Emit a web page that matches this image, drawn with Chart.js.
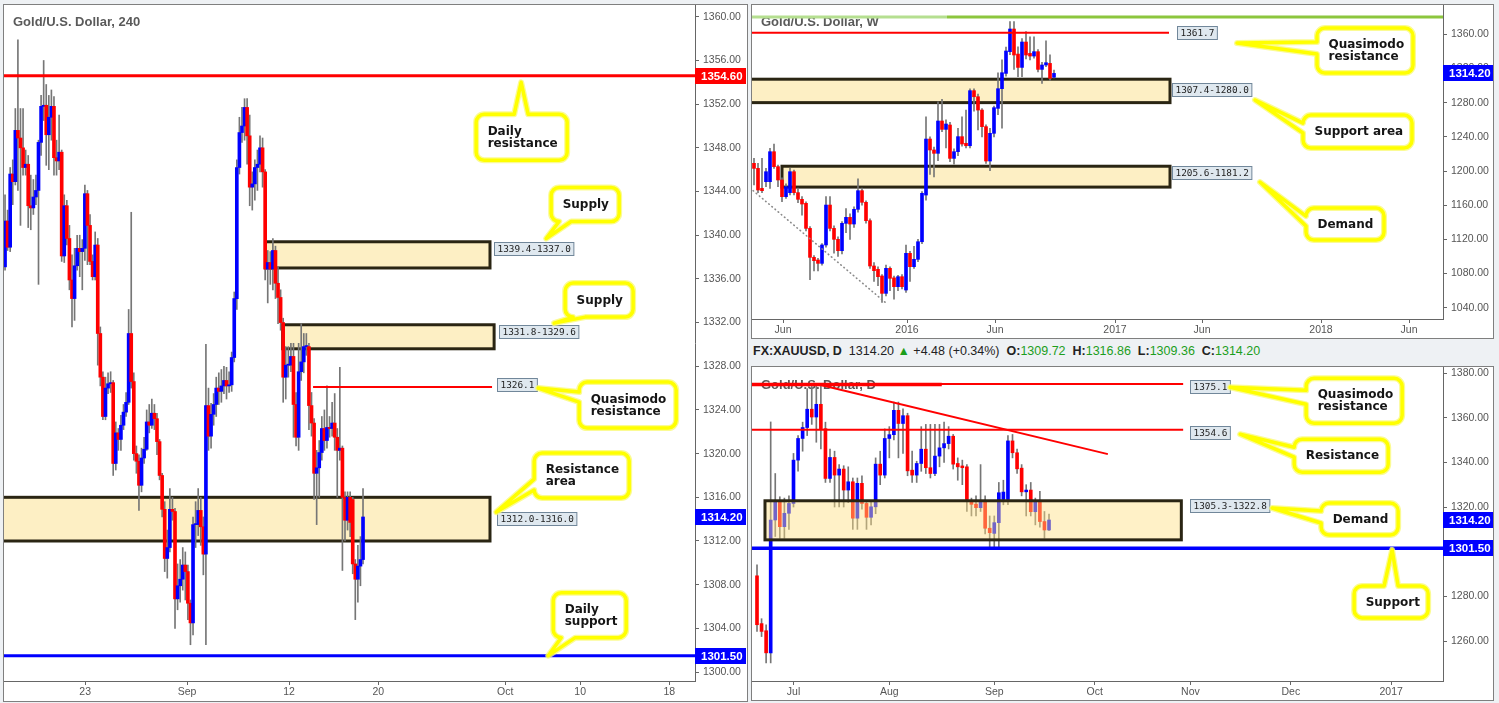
<!DOCTYPE html>
<html>
<head>
<meta charset="utf-8">
<script src="https://cdn.jsdelivr.net/npm/chart.js@4.4.1/dist/chart.umd.min.js"></script>
<style>
body { margin: 0; width: 1499px; height: 703px; overflow: hidden; position: relative; background: #eef1f4; }
.panel { position: absolute; background: #fff; border: 1px solid #7f7f7f; box-sizing: border-box; }
canvas { position: absolute; }
#hdr { position: absolute; left: 753px; top: 344px; font: 12.5px "Liberation Sans", Arial, sans-serif; color: #222; white-space: nowrap; }
#hdr .g { color: #1c9e1c; }
#hdr b { color: #222; }
</style>
</head>
<body>
<div class="panel" style="left:3px;top:4px;width:745px;height:698px"></div>
<div class="panel" style="left:751px;top:4px;width:743px;height:335px"></div>
<div class="panel" style="left:751px;top:366px;width:743px;height:335px"></div>
<div id="hdr"></div>
<canvas id="c4h" width="742" height="695" style="left:4px;top:5px"></canvas>
<canvas id="cw" width="741" height="333" style="left:752px;top:5px"></canvas>
<canvas id="cd" width="741" height="333" style="left:752px;top:367px"></canvas>
<script>
// ---- 4 hour candles (gold, mid Aug - 19 Sep 2016)
var H4_O = [1337.1,1341.3,1338.9,1345.6,1344.9,1349.6,1348.9,1348.0,1346.2,1346.5,
  1342.7,1342.5,1343.5,1344.1,1348.5,1351.8,1351.9,1349.2,1350.8,1351.8,
  1347.1,1346.8,1347.6,1338.1,1342.7,1339.7,1335.9,1334.2,1337.2,1338.8,
  1338.5,1338.8,1343.8,1340.9,1337.6,1336.2,1339.1,1331.0,1327.0,1323.4,
  1326.0,1326.4,1326.5,1319.1,1321.9,1321.3,1322.6,1323.8,1324.7,1331.0,
  1326.6,1320.0,1319.3,1317.1,1319.6,1320.4,1322.9,1322.6,1323.7,1323.2,
  1321.1,1318.0,1314.9,1310.4,1311.4,1314.9,1314.7,1306.7,1307.9,1308.5,
  1309.8,1309.2,1306.3,1304.5,1313.5,1313.5,1314.8,1313.3,1310.8,1324.4,
  1321.6,1323.6,1324.5,1326.0,1325.7,1326.2,1326.7,1326.2,1326.3,1328.8,
  1334.2,1346.2,1349.4,1350.0,1351.7,1349.1,1344.4,1344.7,1346.2,1346.5,
  1348.0,1345.8,1336.9,1337.5,1336.9,1338.6,1335.6,1334.3,1332.0,1327.0,
  1328.1,1328.1,1328.9,1324.5,1321.5,1327.5,1328.4,1329.8,1329.8,1324.4,
  1322.8,1318.2,1318.7,1320.1,1322.3,1321.2,1322.4,1322.3,1322.8,1321.5,
  1320.3,1320.5,1316.0,1313.9,1316.0,1315.8,1309.9,1308.5,1309.7,1310.3];
var H4_H = [1343.7,1342.3,1346.2,1346.9,1351.6,1357.9,1351.6,1351.6,1347.8,1347.3,
  1345.5,1345.1,1345.5,1348.7,1352.8,1356.0,1353.8,1352.8,1353.3,1352.7,
  1348.7,1351.0,1347.8,1343.7,1343.2,1340.9,1338.2,1338.8,1340.0,1340.0,
  1339.6,1344.6,1344.1,1341.9,1338.2,1340.3,1339.7,1331.6,1327.5,1327.0,
  1327.4,1327.5,1326.7,1322.9,1322.3,1323.5,1324.5,1325.6,1333.2,1342.1,
  1327.4,1320.7,1319.9,1320.5,1321.5,1324.0,1324.5,1325.0,1324.5,1323.7,
  1321.3,1318.2,1315.6,1313.0,1316.8,1316.0,1315.0,1309.9,1310.3,1311.4,
  1311.0,1309.8,1306.6,1314.2,1315.6,1316.8,1316.0,1314.2,1330.0,1326.0,
  1324.6,1325.5,1327.0,1327.4,1327.7,1328.0,1327.9,1327.5,1329.3,1334.8,
  1346.9,1350.8,1351.7,1352.5,1352.5,1351.0,1345.8,1346.9,1347.8,1349.1,
  1348.9,1346.0,1338.6,1338.5,1339.7,1339.0,1337.1,1335.0,1332.4,1329.8,
  1329.8,1330.1,1330.1,1325.6,1330.1,1331.9,1331.0,1331.0,1330.1,1325.6,
  1323.2,1320.3,1321.2,1323.4,1324.0,1326.2,1323.4,1324.7,1325.5,1322.3,
  1327.9,1320.7,1316.5,1316.5,1316.5,1316.0,1310.3,1311.6,1312.4,1316.8];
var H4_L = [1336.8,1338.6,1338.5,1342.8,1344.6,1344.1,1340.9,1345.5,1345.5,1340.7,
  1340.5,1341.9,1342.8,1335.5,1347.3,1350.5,1346.4,1346.0,1348.7,1345.5,
  1345.5,1346.0,1337.6,1337.5,1339.1,1335.0,1331.6,1332.2,1336.8,1336.2,
  1335.0,1337.7,1337.3,1337.3,1335.9,1335.9,1328.1,1326.2,1323.1,1323.1,
  1325.5,1325.6,1318.0,1318.5,1320.3,1320.3,1322.2,1323.4,1324.5,1326.0,
  1319.4,1318.2,1314.8,1316.5,1319.1,1320.3,1321.9,1322.3,1322.2,1319.9,
  1317.6,1314.2,1309.2,1308.6,1311.0,1313.9,1304.0,1305.7,1306.4,1307.5,
  1306.6,1304.8,1302.5,1303.4,1311.4,1312.5,1311.6,1308.9,1302.5,1320.3,
  1320.5,1322.6,1323.4,1324.5,1324.7,1325.5,1325.0,1325.6,1325.7,1328.4,
  1333.2,1345.6,1348.5,1348.7,1346.5,1342.7,1342.3,1343.2,1344.1,1345.8,
  1344.4,1335.9,1333.8,1335.5,1335.0,1334.2,1331.9,1331.3,1324.7,1325.0,
  1327.0,1327.5,1321.5,1320.7,1320.3,1326.7,1327.4,1329.0,1322.2,1321.6,
  1315.8,1313.5,1316.0,1319.4,1320.3,1320.5,1321.5,1321.6,1320.3,1316.0,
  1319.4,1309.3,1312.0,1313.0,1312.4,1309.0,1304.8,1306.4,1307.9,1309.9];
var H4_C = [1341.3,1338.9,1345.6,1344.9,1349.6,1348.9,1348.0,1346.2,1346.5,1342.7,
  1342.5,1343.5,1344.1,1348.5,1351.8,1351.9,1349.2,1350.8,1351.8,1347.1,
  1346.8,1347.6,1338.1,1342.7,1339.7,1335.9,1334.2,1337.2,1338.8,1338.5,
  1338.8,1343.8,1340.9,1337.6,1336.2,1339.1,1331.0,1327.0,1323.4,1326.0,
  1326.4,1326.5,1319.1,1321.9,1321.3,1322.6,1323.8,1324.7,1331.0,1326.6,
  1320.0,1319.3,1317.1,1319.6,1320.4,1322.9,1322.6,1323.7,1323.2,1321.1,
  1318.0,1314.9,1310.4,1311.4,1314.9,1314.7,1306.7,1307.9,1308.5,1309.8,
  1309.2,1306.3,1304.5,1313.5,1313.5,1314.8,1313.3,1310.8,1324.4,1321.6,
  1323.6,1324.5,1326.0,1325.7,1326.2,1326.7,1326.2,1326.3,1328.8,1334.2,
  1346.2,1349.4,1350.0,1351.7,1349.1,1344.4,1344.7,1346.2,1346.5,1348.0,
  1345.8,1336.9,1337.5,1336.9,1338.6,1335.6,1334.3,1332.0,1327.0,1328.1,
  1328.1,1328.9,1324.5,1321.5,1327.5,1328.4,1329.8,1329.8,1324.4,1322.8,
  1318.2,1318.7,1320.1,1322.3,1321.2,1322.4,1322.3,1322.8,1321.5,1320.3,
  1320.5,1316.0,1313.9,1316.0,1313.7,1309.9,1308.5,1309.7,1310.3,1314.2];
var H4_TICK_POS = [31.1, 70.7, 110.3, 144.9, 194.2, 223.3, 257.9];
var H4_TICK_LBL = ['23', 'Sep', '12', '20', 'Oct', '10', '18'];

// ---- weekly candles (May 2015 - Sep 2016)
var W_O = [1209.0,1203.1,1179.7,1187.5,1187.5,1222.6,1205.1,1189.5,1170.0,1174.7,
  1199.2,1174.7,1166.9,1162.2,1132.9,1099.0,1095.9,1092.0,1113.5,1160.2,
  1132.9,1120.1,1106.8,1138.8,1145.8,1138.0,1155.2,1177.0,1163.4,1141.9,
  1088.9,1085.0,1077.2,1056.9,1086.2,1075.0,1064.7,1076.4,1060.8,1103.7,
  1088.1,1096.7,1117.3,1171.9,1237.4,1224.6,1220.7,1258.5,1248.7,1253.8,
  1214.8,1222.6,1240.2,1232.4,1229.6,1294.0,1286.9,1271.3,1251.9,1211.7,
  1244.1,1273.3,1296.3,1314.2,1339.6,1366.1,1336.8,1321.2,1350.9,1337.6,
  1334.5,1339.6,1318.9,1324.0,1325.9,1309.7];
var W_H = [1214.8,1209.0,1214.8,1203.1,1226.5,1231.6,1207.0,1192.0,1185.0,1203.1,
  1201.0,1180.0,1170.0,1164.0,1135.0,1101.0,1098.0,1115.0,1170.0,1170.0,
  1136.0,1123.0,1141.0,1156.0,1150.0,1158.0,1191.0,1180.0,1165.0,1144.0,
  1093.0,1088.0,1079.0,1090.0,1088.0,1077.0,1078.0,1079.0,1113.5,1106.0,
  1112.0,1120.0,1176.0,1263.5,1240.0,1228.0,1281.0,1283.8,1260.0,1257.0,
  1226.0,1250.0,1263.5,1271.3,1296.0,1296.0,1290.0,1273.0,1254.0,1250.0,
  1276.0,1315.0,1330.0,1345.0,1374.7,1374.7,1345.4,1355.0,1363.0,1357.1,
  1357.1,1342.0,1327.0,1352.4,1336.0,1318.0];
var W_L = [1183.6,1174.7,1174.7,1181.7,1179.7,1203.1,1181.7,1164.1,1168.0,1172.0,
  1172.0,1163.0,1148.5,1130.0,1073.0,1083.0,1083.0,1090.0,1111.0,1130.0,
  1104.0,1100.0,1103.0,1128.0,1120.0,1134.0,1152.0,1160.0,1139.0,1086.0,
  1071.0,1066.0,1046.2,1054.0,1060.0,1050.0,1060.0,1062.0,1058.0,1071.0,
  1086.0,1094.0,1115.0,1166.0,1196.0,1193.0,1212.0,1246.0,1227.0,1211.0,
  1208.0,1218.0,1229.0,1227.0,1227.0,1270.0,1248.0,1240.0,1209.0,1200.4,
  1240.0,1266.0,1250.0,1311.0,1336.0,1318.9,1310.3,1310.3,1331.0,1330.0,
  1332.0,1316.0,1302.5,1322.0,1306.0,1309.0];
var W_C = [1203.1,1177.8,1177.0,1199.2,1222.6,1205.1,1189.5,1170.0,1181.7,1199.2,
  1174.7,1166.9,1161.4,1132.9,1099.0,1095.1,1092.0,1113.5,1160.2,1132.9,
  1120.1,1106.8,1138.8,1145.8,1138.0,1155.2,1177.0,1163.4,1141.9,1088.9,
  1083.4,1076.4,1056.9,1086.2,1074.5,1064.7,1076.4,1064.7,1103.7,1088.1,
  1096.7,1117.3,1173.9,1237.4,1224.6,1220.7,1258.5,1248.7,1255.0,1214.8,
  1222.6,1240.2,1231.6,1229.6,1294.0,1286.9,1271.3,1251.9,1211.7,1244.1,
  1274.1,1296.3,1315.0,1340.4,1366.1,1335.7,1321.2,1350.9,1335.7,1334.5,
  1339.6,1318.9,1324.0,1326.7,1308.4,1314.2];
var W_TICK_POS = [7.25, 38.25, 60.25, 90.25, 112, 141.75, 163.75];
var W_TICK_LBL = ['Jun', '2016', 'Jun', '2017', 'Jun', '2018', 'Jun'];

// ---- daily candles (21 Jun - 19 Sep 2016)
var D_O = [1289.2,1267.8,1264.6,1254.7,1314.2,1322.4,1311.2,1317.2,1321.6,1341.0,
  1350.7,1355.6,1363.8,1360.3,1366.0,1355.1,1332.8,1342.2,1334.3,1337.0,
  1327.6,1331.3,1315.0,1330.6,1321.6,1315.4,1320.1,1339.2,1334.3,1350.7,
  1352.4,1363.3,1357.4,1360.9,1336.5,1334.3,1339.5,1345.9,1337.6,1335.0,
  1342.8,1346.5,1348.4,1351.7,1339.5,1338.4,1338.0,1322.4,1321.3,1319.7,
  1322.4,1310.5,1308.2,1313.0,1323.4,1323.4,1349.6,1344.3,1337.4,1326.8,
  1327.6,1317.9,1322.4,1313.5,1309.72];
var D_H = [1294.1,1270.0,1267.3,1358.1,1335.0,1324.6,1324.0,1325.0,1344.0,1352.0,
  1358.0,1373.0,1374.0,1374.0,1375.2,1358.0,1346.0,1345.0,1339.0,1338.5,
  1338.0,1333.0,1333.0,1334.0,1323.0,1323.0,1342.0,1345.0,1355.0,1356.0,
  1367.0,1367.0,1364.0,1362.0,1345.0,1340.5,1356.0,1357.0,1357.0,1357.0,
  1357.0,1358.0,1356.0,1352.5,1342.0,1341.0,1339.0,1324.0,1325.0,1339.0,
  1325.0,1316.0,1316.0,1331.0,1332.0,1352.0,1352.5,1346.0,1339.0,1330.0,
  1331.0,1324.0,1327.0,1318.0,1316.86];
var D_L = [1264.3,1262.0,1250.2,1250.2,1306.8,1306.0,1306.0,1310.0,1320.0,1336.0,
  1345.0,1352.0,1357.0,1349.0,1346.0,1331.0,1331.0,1320.0,1320.0,1320.0,
  1322.0,1310.0,1310.0,1319.0,1310.0,1312.0,1317.0,1330.0,1333.0,1342.0,
  1350.0,1342.0,1344.0,1334.0,1331.0,1331.0,1336.0,1335.0,1333.0,1334.0,
  1338.0,1340.0,1346.0,1337.0,1332.0,1330.0,1318.0,1316.0,1316.0,1318.0,
  1308.0,1302.0,1302.0,1302.0,1321.0,1321.0,1342.0,1335.0,1325.0,1316.0,
  1316.0,1312.0,1311.0,1306.0,1309.36];
var D_C = [1267.3,1264.3,1254.7,1314.2,1322.4,1311.2,1317.2,1321.6,1341.0,1350.7,
  1355.6,1363.8,1360.3,1366.0,1355.1,1332.8,1342.2,1334.3,1337.0,1327.6,
  1331.3,1315.0,1330.6,1321.6,1315.4,1320.1,1339.2,1334.3,1350.7,1352.4,
  1363.3,1357.4,1360.9,1336.2,1334.3,1339.5,1345.9,1337.6,1335.0,1342.8,
  1346.5,1348.4,1351.7,1339.2,1338.0,1337.6,1323.4,1321.2,1319.7,1322.4,
  1310.5,1308.5,1313.0,1326.4,1326.7,1349.6,1344.3,1337.1,1326.8,1327.6,
  1317.9,1322.4,1313.5,1309.72,1314.20];
var D_TICK_POS = [8, 29, 52, 74, 95, 117, 139];
var D_TICK_LBL = ['Jul', 'Aug', 'Sep', 'Oct', 'Nov', 'Dec', '2017'];

var UP = '#0000ff', DOWN = '#ff0000', WICK = '#767676', AXIS = '#666', TXT = '#555';
var RED = '#ff0000', BLUE = '#0000ff';
var ZONE = '#fdefc4', ZONE_T = 'rgba(255,225,130,0.45)';

function candleSets(O, H, L, C) {
  return [
    { data: O.map(function (o, i) { return { x: i, y: [o, C[i]] }; }),
      backgroundColor: O.map(function (o, i) { return C[i] >= o ? UP : DOWN; }),
      barThickness: 3, minBarLength: 1, grouped: false, order: 1 },
    { data: L.map(function (l, i) { return { x: i, y: [l, H[i]] }; }),
      backgroundColor: WICK, barThickness: 1, grouped: false, order: 2 }
  ];
}

function axes(xr, tpos, tlbl, yr, step, yw) {
  var font = { family: 'Liberation Sans', size: 10.5 };
  var grid = { display: true, offset: false, drawOnChartArea: false, drawTicks: true, tickLength: 4, color: AXIS };
  return {
    x: { type: 'linear', min: xr[0], max: xr[1], offset: false, grid: grid,
         border: { display: true, color: AXIS },
         afterBuildTicks: function (s) { s.ticks = tpos.map(function (v) { return { value: v }; }); },
         afterFit: function (s) { s.height = 19; s.paddingLeft = 0; s.paddingRight = 0; },
         ticks: { autoSkip: false, maxRotation: 0, padding: 1, color: TXT, font: font,
                  callback: function (v, i) { return tlbl[i]; } } },
    y: { type: 'linear', position: 'right', min: yr[0], max: yr[1], grid: grid,
         border: { display: true, color: AXIS },
         afterFit: function (s) { s.width = yw; s.paddingTop = 0; s.paddingBottom = 0; },
         ticks: { stepSize: step, includeBounds: false, autoSkip: false, padding: 4, color: TXT, font: font,
                  callback: function (v) { return v.toFixed(2); } } }
  };
}

function drawZone(ctx, x, y, a, z) {
  var x0 = Math.max(x.getPixelForValue(z.x0), a.left - 3);
  var x1 = x.getPixelForValue(z.x1);
  var y0 = y.getPixelForValue(z.hi), y1 = y.getPixelForValue(z.lo);
  ctx.fillStyle = z.fill;
  ctx.fillRect(x0, y0, x1 - x0, y1 - y0);
  ctx.lineWidth = 3;
  ctx.strokeStyle = '#2a2513';
  ctx.strokeRect(x0, y0, x1 - x0, y1 - y0);
}

function drawCallout(ctx, c, tx, ty) {
  var x = tx + c.dx, y = ty + c.dy, w = c.w, h = c.h, r = 8;
  ctx.beginPath();
  ctx.moveTo(x + r, y);
  if (c.side === 'top') { ctx.lineTo(x + c.b0, y); ctx.lineTo(tx, ty); ctx.lineTo(x + c.b1, y); }
  ctx.lineTo(x + w - r, y);
  ctx.arcTo(x + w, y, x + w, y + r, r);
  ctx.lineTo(x + w, y + h - r);
  ctx.arcTo(x + w, y + h, x + w - r, y + h, r);
  if (c.side === 'bottom') { ctx.lineTo(x + c.b1, y + h); ctx.lineTo(tx, ty); ctx.lineTo(x + c.b0, y + h); }
  ctx.lineTo(x + r, y + h);
  ctx.arcTo(x, y + h, x, y + h - r, r);
  if (c.side === 'left') { ctx.lineTo(x, y + c.b1); ctx.lineTo(tx, ty); ctx.lineTo(x, y + c.b0); }
  ctx.lineTo(x, y + r);
  ctx.arcTo(x, y, x + r, y, r);
  ctx.closePath();
  ctx.fillStyle = '#fff';
  ctx.fill();
  ctx.lineJoin = 'round';
  ctx.strokeStyle = 'rgba(250,250,120,0.8)';
  ctx.lineWidth = 6;
  ctx.stroke();
  ctx.strokeStyle = '#ffff00';
  ctx.lineWidth = 3.5;
  ctx.stroke();
  ctx.fillStyle = '#151515';
  ctx.font = 'bold 12px "DejaVu Sans"';
  ctx.textBaseline = 'middle';
  var n = c.text.length, lh = 12;
  c.text.forEach(function (t, i) {
    ctx.fillText(t, x + 11.5, y + h / 2 + (i - (n - 1) / 2) * lh + 0.5);
  });
}

function overlay(cfg) {
  return {
    id: 'overlay',
    beforeDatasetsDraw: function (chart) {
      var ctx = chart.ctx, a = chart.chartArea, x = chart.scales.x, y = chart.scales.y;
      ctx.save();
      ctx.beginPath(); ctx.rect(a.left, a.top, a.right - a.left, a.bottom - a.top); ctx.clip();
      ctx.font = 'bold 13px "Liberation Sans"';
      ctx.fillStyle = '#5a5a5a';
      ctx.textBaseline = 'alphabetic';
      ctx.fillText(cfg.title, a.left + 9, a.top + cfg.titleY);
      (cfg.under || []).forEach(function (z) { drawZone(ctx, x, y, a, z); });
      ctx.restore();
    },
    afterDatasetsDraw: function (chart) {
      var ctx = chart.ctx, a = chart.chartArea, x = chart.scales.x, y = chart.scales.y;
      ctx.save();
      ctx.beginPath(); ctx.rect(a.left, a.top, a.right - a.left, a.bottom - a.top); ctx.clip();
      (cfg.over || []).forEach(function (z) { drawZone(ctx, x, y, a, z); });
      (cfg.lines || []).forEach(function (l) {
        ctx.beginPath();
        ctx.setLineDash(l.dash || []);
        ctx.lineCap = l.dash ? 'round' : 'butt';
        ctx.strokeStyle = l.color;
        ctx.lineWidth = l.w;
        var x0 = l.x0 === undefined ? a.left : x.getPixelForValue(l.x0);
        var x1 = l.x1 === undefined ? a.right : x.getPixelForValue(l.x1);
        var v1 = l.v1 === undefined ? l.v : l.v1;
        ctx.moveTo(x0, y.getPixelForValue(l.v));
        ctx.lineTo(x1, y.getPixelForValue(v1));
        ctx.stroke();
      });
      ctx.setLineDash([]);
      (cfg.labels || []).forEach(function (t) {
        ctx.font = '9.4px "DejaVu Sans Mono"';
        var tw = ctx.measureText(t.text).width;
        var px = Math.round(x.getPixelForValue(t.x)) + 0.5;
        var py = Math.round(y.getPixelForValue(t.v) - 6.5) + 0.5;
        ctx.fillStyle = '#dfe8ef';
        ctx.fillRect(px, py, tw + 6, 13);
        ctx.strokeStyle = '#71879a';
        ctx.lineWidth = 1;
        ctx.strokeRect(px, py, tw + 6, 13);
        ctx.fillStyle = '#1e1e1e';
        ctx.textBaseline = 'middle';
        ctx.fillText(t.text, px + 3, py + 7);
      });
      (cfg.callouts || []).forEach(function (c) {
        drawCallout(ctx, c, x.getPixelForValue(c.tx), y.getPixelForValue(c.ty));
      });
      ctx.restore();
      (cfg.tags || []).forEach(function (t) {
        var py = Math.round(y.getPixelForValue(t.v));
        ctx.fillStyle = t.bg;
        ctx.fillRect(a.right, py - 8, chart.width - a.right, 16);
        ctx.fillStyle = '#fff';
        ctx.font = 'bold 11.5px "Liberation Sans"';
        ctx.textBaseline = 'middle';
        ctx.fillText(t.v.toFixed(2), a.right + 6, py + 0.5);
      });
    }
  };
}

function makeChart(id, sets, sc, cfg) {
  return new Chart(document.getElementById(id), {
    type: 'bar',
    data: { datasets: sets },
    options: {
      responsive: false, animation: false, devicePixelRatio: 1, events: [],
      layout: { padding: 0 },
      plugins: { legend: { display: false }, tooltip: { enabled: false } },
      scales: sc
    },
    plugins: [overlay(cfg)]
  });
}

// 4 hour
makeChart('c4h', candleSets(H4_O, H4_H, H4_L, H4_C),
  axes([-0.4, 267.9], H4_TICK_POS, H4_TICK_LBL, [1299.18, 1361.08], 4, 51), {
    title: 'Gold/U.S. Dollar, 240', titleY: 21,
    under: [
      { x0: 101.1, x1: 188.3, hi: 1339.4, lo: 1337.0, fill: ZONE },
      { x0: 107.8, x1: 189.9, hi: 1331.8, lo: 1329.6, fill: ZONE },
      { x0: -2, x1: 188.3, hi: 1316.0, lo: 1312.0, fill: ZONE }
    ],
    lines: [
      { v: 1354.6, color: RED, w: 3 },
      { v: 1301.5, color: BLUE, w: 3 },
      { x0: 119.6, x1: 189.1, v: 1326.1, color: RED, w: 2 }
    ],
    labels: [
      { x: 189.9, v: 1338.8, text: '1339.4-1337.0' },
      { x: 191.8, v: 1331.2, text: '1331.8-1329.6' },
      { x: 191.1, v: 1326.3, text: '1326.1' },
      { x: 191.1, v: 1314.1, text: '1312.0-1316.0' }
    ],
    callouts: [
      { tx: 200.4, ty: 1354.0, dx: -45, dy: 32, w: 91, h: 46, side: 'top', b0: 38, b1: 52, text: ['Daily', 'resistance'] },
      { tx: 210.1, ty: 1339.7, dx: 5, dy: -51, w: 68, h: 34, side: 'bottom', b0: 8, b1: 20, text: ['Supply'] },
      { tx: 213.2, ty: 1331.95, dx: 11, dy: -40, w: 68, h: 34, side: 'bottom', b0: 8, b1: 20, text: ['Supply'] },
      { tx: 207.0, ty: 1326.0, dx: 41, dy: -6, w: 97, h: 46, side: 'left', b0: 10, b1: 20, text: ['Quasimodo', 'resistance'] },
      { tx: 190.7, ty: 1314.65, dx: 38, dy: -59, w: 95, h: 45, side: 'left', b0: 26, b1: 37, text: ['Resistance', 'area'] },
      { tx: 210.9, ty: 1301.5, dx: 5, dy: -63, w: 73, h: 45, side: 'bottom', b0: 8, b1: 22, text: ['Daily', 'support'] }
    ],
    tags: [ { v: 1354.6, bg: RED }, { v: 1314.2, bg: BLUE }, { v: 1301.5, bg: BLUE } ]
  });

// weekly
makeChart('cw', candleSets(W_O, W_H, W_L, W_C),
  axes([-0.5, 172.25], W_TICK_POS, W_TICK_LBL, [1026.9, 1394.2], 40, 50), {
    title: 'Gold/U.S. Dollar, W', titleY: 21,
    under: [
      { x0: -2, x1: 104, hi: 1307.4, lo: 1280.0, fill: ZONE },
      { x0: 7, x1: 104, hi: 1205.6, lo: 1181.2, fill: ZONE }
    ],
    lines: [
      { x0: -1, x1: 48.25, v: 1380.2, color: '#b5df90', w: 3 },
      { x0: 48.25, x1: 175, v: 1380.2, color: '#8cc63e', w: 3 },
      { x1: 103.75, v: 1361.7, color: RED, w: 2 },
      { x0: -1, x1: 33, v: 1180.1, v1: 1045.6, color: '#8a8a8a', w: 1.6, dash: [0.5, 3.6] }
    ],
    labels: [
      { x: 105.75, v: 1362.6, text: '1361.7' },
      { x: 104.5, v: 1295.9, text: '1307.4-1280.0' },
      { x: 104.5, v: 1198.8, text: '1205.6-1181.2' }
    ],
    callouts: [
      { tx: 120.75, ty: 1349.7, dx: 80, dy: -15, w: 96, h: 45, side: 'left', b0: 14, b1: 26, text: ['Quasimodo', 'resistance'] },
      { tx: 125.25, ty: 1283.0, dx: 48, dy: 15, w: 109, h: 33, side: 'left', b0: 8, b1: 18, text: ['Support area'] },
      { tx: 126.5, ty: 1187.1, dx: 46, dy: 26, w: 78, h: 32, side: 'left', b0: 8, b1: 18, text: ['Demand'] }
    ],
    tags: [ { v: 1314.2, bg: BLUE } ]
  });

// daily
makeChart('cd', candleSets(D_O, D_H, D_L, D_C),
  axes([-1.096, 150.35], D_TICK_POS, D_TICK_LBL, [1242.1, 1382.7], 20, 50), {
    title: 'Gold/U.S. Dollar, D', titleY: 22,
    over: [ { x0: 1.75, x1: 93, hi: 1322.8, lo: 1305.3, fill: ZONE_T } ],
    lines: [
      { x1: 40.5, v: 1374.9, color: RED, w: 3.5 },
      { x1: 93.4, v: 1375.1, color: RED, w: 2 },
      { x1: 93.4, v: 1354.6, color: RED, w: 2 },
      { x0: 14.2, x1: 76.9, v: 1374.5, v1: 1343.7, color: RED, w: 2 },
      { v: 1301.5, color: BLUE, w: 3.5 }
    ],
    labels: [
      { x: 94.9, v: 1373.8, text: '1375.1' },
      { x: 94.9, v: 1353.3, text: '1354.6' },
      { x: 94.9, v: 1320.9, text: '1305.3-1322.8' }
    ],
    callouts: [
      { tx: 103.7, ty: 1373.6, dx: 76, dy: -9, w: 96, h: 45, side: 'left', b0: 12, b1: 26, text: ['Quasimodo', 'resistance'] },
      { tx: 105.9, ty: 1352.6, dx: 54, dy: 5, w: 94, h: 33, side: 'left', b0: 8, b1: 18, text: ['Resistance'] },
      { tx: 112.9, ty: 1319.55, dx: 49, dy: -5, w: 77, h: 32, side: 'left', b0: 8, b1: 20, text: ['Demand'] },
      { tx: 139.2, ty: 1300.8, dx: -38, dy: 36, w: 74, h: 32, side: 'top', b0: 30, b1: 44, text: ['Support'] }
    ],
    tags: [ { v: 1314.2, bg: BLUE }, { v: 1301.5, bg: BLUE } ]
  });

// daily header line built from the last daily bar
(function () {
  var n = D_C.length, last = D_C[n - 1], chg = last - D_C[n - 2];
  var pct = chg / D_C[n - 2] * 100;
  var g = function (v) { return '<span class="g">' + v.toFixed(2) + '</span>'; };
  document.getElementById('hdr').innerHTML =
    '<b>FX:XAUUSD, D</b>&nbsp; ' + last.toFixed(2) + ' <span class="g">&#9650;</span> +' + chg.toFixed(2) +
    ' (+' + pct.toFixed(2) + '%)&nbsp; <b>O:</b>' + g(D_O[n - 1]) + '&nbsp; <b>H:</b>' + g(D_H[n - 1]) +
    '&nbsp; <b>L:</b>' + g(D_L[n - 1]) + '&nbsp; <b>C:</b>' + g(last);
})();
</script>
</body>
</html>
